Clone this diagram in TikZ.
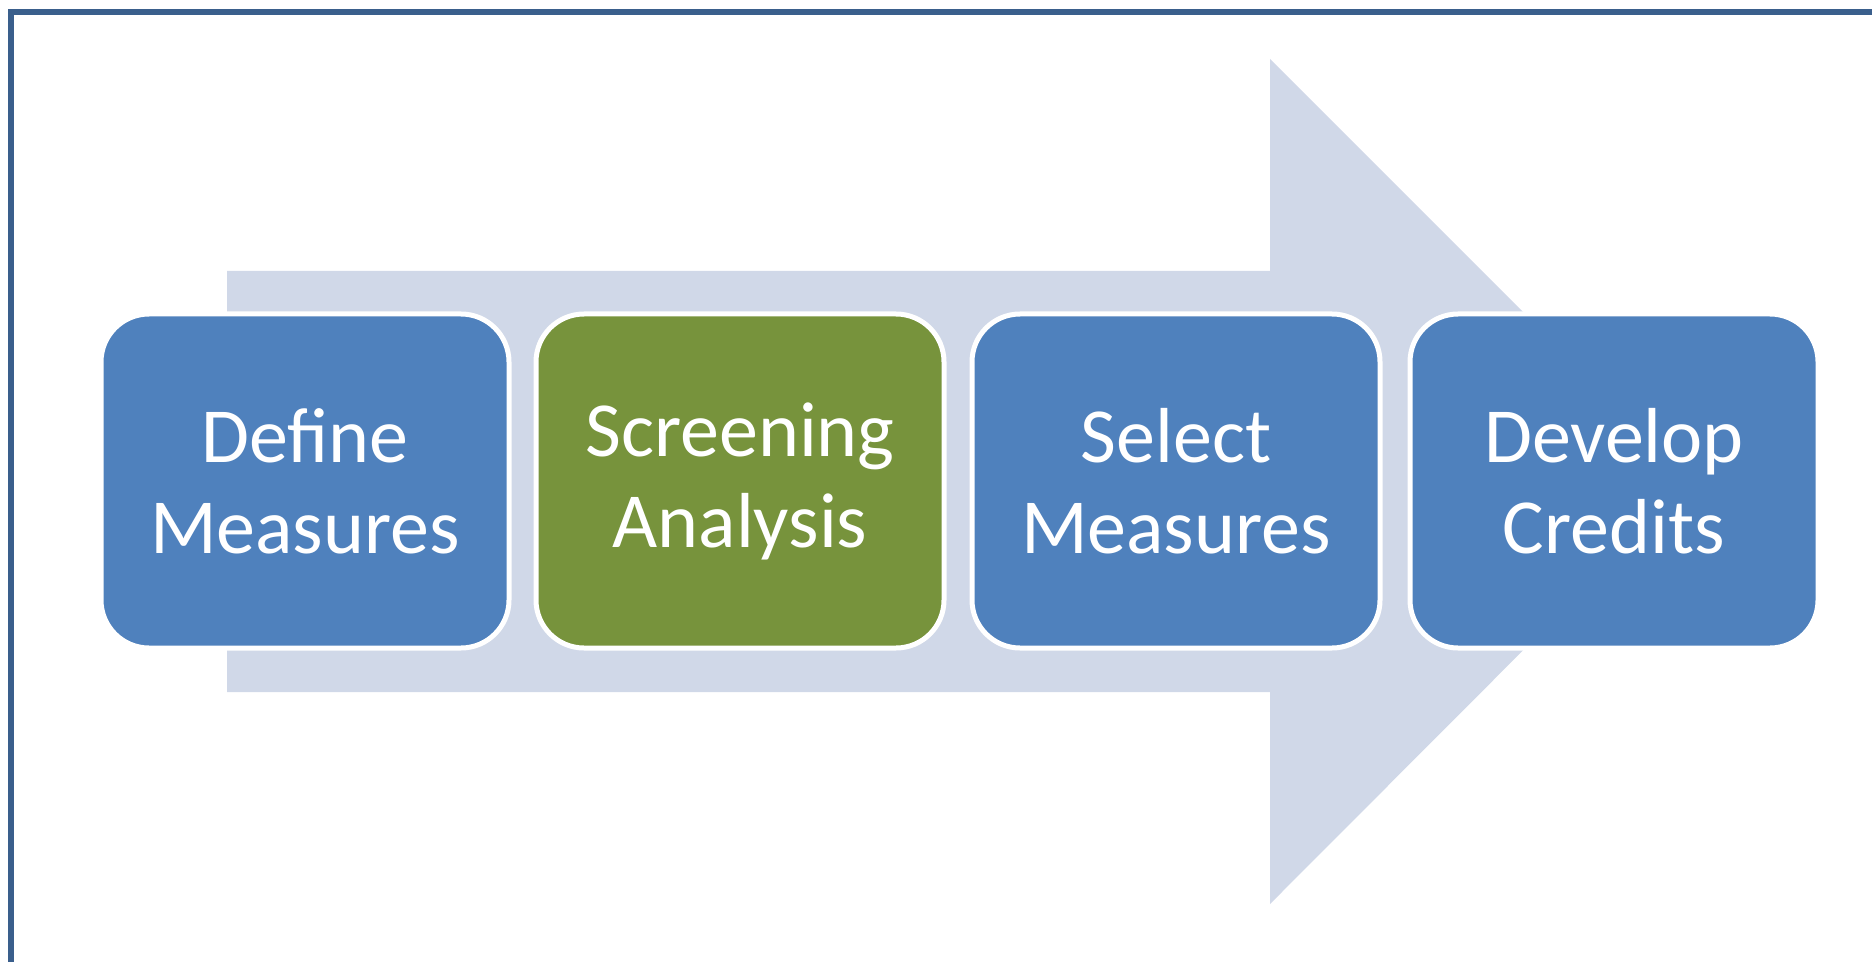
\documentclass[tikz,border=0pt]{standalone}
\usepackage{fontspec}
\setmainfont{Carlito}
\usepackage{tikz}

\definecolor{framecol}{HTML}{3A5F8C}
\definecolor{arrowcol}{HTML}{D0D8E8}
\definecolor{boxblue}{HTML}{4F81BD}
\definecolor{boxgreen}{HTML}{77933C}

\tikzset{
  stepbox/.style={draw=white, line width=2.5pt, rounded corners=24pt,
    minimum width=204pt, minimum height=167pt, inner sep=0pt,
    text=white, align=center, font=\fontsize{39}{45.5}\selectfont},
}

\begin{document}
\begin{tikzpicture}[x=0.5pt, y=-0.5pt]
        \useasboundingbox (0, 0) rectangle (1872, 962);
        % frame
        \draw [framecol, line width=3pt] (1890, 12.5) -- (10.5, 12.5) -- (10.5, 980);
        % big arrow
        \fill [arrowcol] (227, 271) -- (1270, 271) -- (1270, 59) -- (1692, 481)
            -- (1270, 904) -- (1270, 692) -- (227, 692) -- cycle;
        % steps
        \node [stepbox, fill=boxblue] (define) at (305, 481) {Define\\Measures};
        \node [stepbox, fill=boxgreen] (screening) at (740, 481) {Screening\\Analysis};
        \node [stepbox, fill=boxblue] (select) at (1176, 481) {Select\\Measures};
        \node [stepbox, fill=boxblue] (develop) at (1614, 481) {Develop\\Credits};
    \end{tikzpicture}
\end{document}
